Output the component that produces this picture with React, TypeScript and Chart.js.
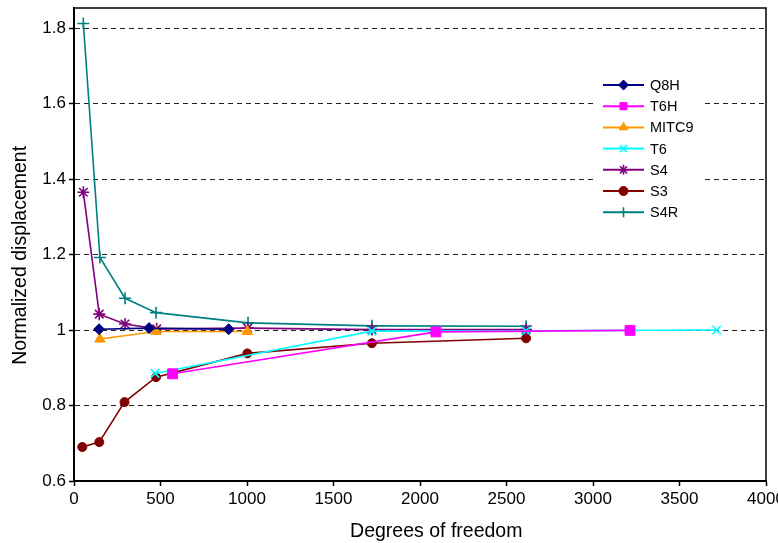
import React, { useEffect, useRef } from 'react';
import { Chart, registerables } from 'chart.js';
import * as helpers from 'chart.js/helpers';

Chart.register(...registerables);

// ---- Data ----
const xTitle = '      Degrees of freedom';
const yTitle = 'Normalized displacement    ';

const q8hX = [145, 434, 894];
const q8hY = [1.002, 1.005, 1.002];

const t6hX = [570, 2092, 3214];
const t6hY = [0.884, 0.995, 0.999];

const mitc9X = [150, 474, 1002];
const mitc9Y = [0.976, 0.996, 0.996];

const t6X = [468, 1722, 2613, 3715];
const t6Y = [0.885, 0.997, 0.998, 1.0];

const s4X = [54, 146, 295, 478, 1004, 1722, 2613];
const s4Y = [1.365, 1.042, 1.016, 1.003, 1.005, 1.001, 1.001];

const s3X = [48, 146, 292, 474, 1002, 1722, 2613];
const s3Y = [0.69, 0.703, 0.809, 0.875, 0.938, 0.965, 0.978];

const s4rX = [54, 150, 295, 474, 1006, 1722, 2613];
const s4rY = [1.812, 1.192, 1.084, 1.046, 1.019, 1.011, 1.01];

const FONT = "'Liberation Sans', Arial, sans-serif";

function pts(xs: number[], ys: number[]) {
  return xs.map((x, i) => ({ x, y: ys[i] }));
}

const seriesDefs = [
  { label: 'Q8H', xs: q8hX, ys: q8hY, color: '#000080', style: 'rectRot', r: 5.5 },
  { label: 'T6H', xs: t6hX, ys: t6hY, color: '#FF00FF', style: 'rect', r: 7 },
  { label: 'MITC9', xs: mitc9X, ys: mitc9Y, color: '#FF9900', style: 'triangle', r: 6 },
  { label: 'T6', xs: t6X, ys: t6Y, color: '#00FFFF', style: 'crossRot', r: 6 },
  { label: 'S4', xs: s4X, ys: s4Y, color: '#800080', style: 'star', r: 6 },
  { label: 'S3', xs: s3X, ys: s3Y, color: '#800000', style: 'circle', r: 4.5 },
  { label: 'S4R', xs: s4rX, ys: s4rY, color: '#008080', style: 'cross', r: 6 },
];

function frameAndLegendDraw(chart: any) {
  const { ctx, chartArea } = chart;
  ctx.save();
  ctx.strokeStyle = '#000';
  ctx.lineWidth = 1.5;
  ctx.setLineDash([]);
  ctx.beginPath();
  ctx.moveTo(chartArea.left, chartArea.top);
  ctx.lineTo(chartArea.right, chartArea.top);
  ctx.lineTo(chartArea.right, chartArea.bottom);
  ctx.stroke();

  ctx.fillStyle = '#fff';
  ctx.fillRect(597, 72, 104, 154);
  const x0 = 603;
  const x1 = 644;
  const y0 = 85;
  const dy = 21.2;
  chart.data.datasets.forEach((ds: any, i: number) => {
    const y = y0 + i * dy;
    ctx.strokeStyle = ds.borderColor;
    ctx.lineWidth = 2;
    ctx.beginPath();
    ctx.moveTo(x0, y);
    ctx.lineTo(x1, y);
    ctx.stroke();
    ctx.fillStyle = ds.pointBackgroundColor;
    ctx.strokeStyle = ds.pointBorderColor;
    ctx.lineWidth = ds.pointBorderWidth;
    helpers.drawPoint(
      ctx,
      {
        pointStyle: ds.pointStyle,
        radius: Math.min(ds.pointRadius, 5),
        rotation: 0,
        borderWidth: ds.pointBorderWidth,
      },
      (x0 + x1) / 2,
      y
    );
    ctx.fillStyle = '#000';
    ctx.font = `14.5px ${FONT}`;
    ctx.textBaseline = 'middle';
    ctx.textAlign = 'left';
    ctx.fillText(ds.label, 650, y + 1);
  });
  ctx.restore();
}

export default function App() {
  const ref = useRef<HTMLCanvasElement>(null);
  useEffect(() => {
    if (!ref.current) return;
    const datasets = seriesDefs.map((s) => ({
      label: s.label,
      data: pts(s.xs, s.ys),
      showLine: true,
      borderColor: s.color,
      backgroundColor: s.color,
      borderWidth: 1.6,
      pointStyle: s.style,
      pointRadius: s.r,
      pointBackgroundColor: s.color,
      pointBorderColor: s.color,
      pointBorderWidth: s.style === 'cross' || s.style === 'crossRot' || s.style === 'star' ? 1.6 : 1,
      pointHoverRadius: s.r,
      tension: 0,
    }));
    const chart = new Chart(ref.current, {
      type: 'scatter',
      data: { datasets },
      options: {
        responsive: false,
        animation: false,
        layout: { padding: { top: 7, right: 12, left: 0, bottom: 0 } },
        plugins: { legend: { display: false }, tooltip: { enabled: false } },
        scales: {
          x: {
            type: 'linear',
            min: 0,
            max: 4000,
            ticks: {
              stepSize: 500,
              color: '#000',
              font: { family: FONT, size: 17 },
              padding: 3,
              maxRotation: 0,
              autoSkip: false,
              callback: (v: any) => String(Math.round(Number(v))),
            },
            grid: {
              drawOnChartArea: false,
              drawTicks: true,
              tickLength: 5,
              tickColor: '#000',
              tickWidth: 1.5,
            },
            border: { color: '#000', width: 2 },
            title: {
              display: true,
              text: xTitle,
              color: '#000',
              font: { family: FONT, size: 19.5 },
              padding: { top: 0, bottom: 0 },
            },
            afterFit(s: any) {
              s.height = 62;
              s.paddingLeft = 0;
              s.paddingRight = 0;
            },
          },
          y: {
            type: 'linear',
            min: 0.6,
            max: 1.853,
            ticks: {
              stepSize: 0.2,
              includeBounds: false,
              color: '#000',
              font: { family: FONT, size: 17 },
              padding: 3,
              callback: (v: any) => String(Number(Number(v).toFixed(1))),
            },
            grid: {
              drawOnChartArea: true,
              color: '#222',
              lineWidth: 1,
              tickLength: 5,
              tickColor: '#000',
              tickWidth: 1.5,
              tickBorderDash: [],
            },
            border: { color: '#000', width: 2, dash: [5, 4] },
            title: {
              display: true,
              text: yTitle,
              color: '#000',
              font: { family: FONT, size: 19.5 },
              padding: { top: 9, bottom: 0 },
            },
            afterFit(s: any) {
              s.width = 74;
              s.paddingTop = 0;
              s.paddingBottom = 0;
            },
          },
        },
      },
      plugins: [
        {
          id: 'frameAndLegend',
          afterDraw(chart: any) {
            frameAndLegendDraw(chart);
          },
        },
      ],
    });
    return () => chart.destroy();
  }, []);
  return (
    <canvas
      ref={ref}
      width={778}
      height={543}
      style={{ position: 'absolute', left: 0, top: 0, display: 'block' }}
    />
  );
}
